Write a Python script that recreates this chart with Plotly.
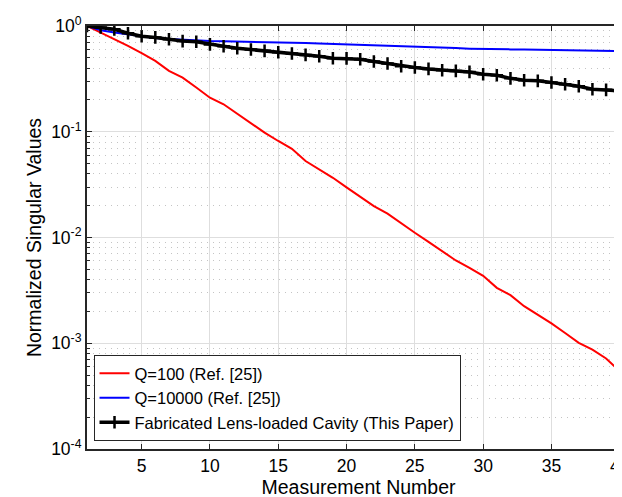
import plotly.graph_objects as go

# measurement index
n = list(range(1, 42))

# normalized singular values
q100 = [1.0, 0.868, 0.740, 0.649, 0.553, 0.468, 0.376, 0.325, 0.262, 0.210,
        0.182, 0.148, 0.1186, 0.098, 0.0818, 0.0689, 0.0529, 0.0441, 0.0367, 0.0298,
        0.0241, 0.0198, 0.0168, 0.01357, 0.01108, 0.0091, 0.00743, 0.00606, 0.00516, 0.00434,
        0.00334, 0.00285, 0.00224, 0.00187, 0.00154, 0.00125, 0.00101, 0.00087, 0.000718, 0.000543,
        0.00042]
q10000 = [1.0, 0.912, 0.868, 0.83, 0.80, 0.77, 0.753, 0.74, 0.73, 0.72,
          0.717, 0.714, 0.711, 0.708, 0.703, 0.697, 0.691, 0.685, 0.679, 0.672,
          0.665, 0.658, 0.651, 0.643, 0.636, 0.630, 0.624, 0.618, 0.611, 0.605,
          0.603, 0.601, 0.599, 0.597, 0.595, 0.593, 0.590, 0.588, 0.585, 0.583,
          0.576]
lens = [1.0, 0.97, 0.93, 0.855, 0.80, 0.78, 0.75, 0.72, 0.71, 0.67,
        0.644, 0.616, 0.599, 0.582, 0.565, 0.549, 0.533, 0.518, 0.496, 0.494,
        0.485, 0.461, 0.442, 0.416, 0.405, 0.393, 0.381, 0.376, 0.368, 0.350,
        0.342, 0.320, 0.307, 0.303, 0.292, 0.281, 0.269, 0.252, 0.249, 0.243,
        0.22]

x_ticks = [5, 10, 15, 20, 25, 30, 35, 40]
y_ticks = [1e-4, 1e-3, 1e-2, 1e-1, 1e0]
y_labels = ["10<sup>-4</sup>", "10<sup>-3</sup>", "10<sup>-2</sup>", "10<sup>-1</sup>", "10<sup>0</sup>"]

AXIS = "#262626"
FONT = "Arial, Liberation Sans, sans-serif"

fig = go.Figure()
fig.add_trace(go.Scatter(
    x=n, y=q100, mode="lines",
    line=dict(color="#ff0000", width=2),
    name="Q=100 (Ref. [25])",
))
fig.add_trace(go.Scatter(
    x=n, y=q10000, mode="lines",
    line=dict(color="#0000ff", width=2),
    name="Q=10000 (Ref. [25])",
))
fig.add_trace(go.Scatter(
    x=n, y=lens, mode="lines+markers",
    line=dict(color="black", width=3.5),
    marker=dict(symbol="cross-thin", size=9, line=dict(color="black", width=2.5)),
    name="Fabricated Lens-loaded Cavity (This Paper)",
))

minor_vals = [m * 10 ** e for e in range(-4, 0) for m in range(2, 10)]

fig.update_layout(
    width=622, height=497,
    paper_bgcolor="white", plot_bgcolor="white",
    font=dict(family=FONT, size=17.5, color="black"),
    margin=dict(l=79, r=0, t=18, b=56),
    legend=dict(
        x=0.012, y=0.222, xanchor="left", yanchor="top",
        bgcolor="white", bordercolor=AXIS, borderwidth=1,
        font=dict(size=16.5, color="black"),
        tracegroupgap=0,
    ),
)
fig.update_xaxes(
    range=[1, 40.75],
    tickvals=x_ticks,
    ticks="inside", ticklen=5, tickwidth=1, tickcolor=AXIS,
    showline=True, linecolor=AXIS, linewidth=2, mirror="ticks",
    showgrid=True, gridcolor="#dedede", gridwidth=1,
    zeroline=False,
    title=dict(text="Measurement Number", font=dict(size=19.5), standoff=1),
)
fig.update_yaxes(
    type="log", range=[-4, 0],
    tickvals=y_ticks, ticktext=y_labels,
    ticks="inside", ticklen=5, tickwidth=1, tickcolor=AXIS,
    showline=True, linecolor=AXIS, linewidth=2, mirror=False,
    showgrid=True, gridcolor="#dedede", gridwidth=1,
    zeroline=False,
    minor=dict(tickvals=minor_vals, ticks="inside", ticklen=3, tickcolor=AXIS,
               showgrid=True, gridcolor="#c4c4c4", griddash="1px,5px", gridwidth=1),
    title=dict(text="Normalized Singular Values", font=dict(size=19.5), standoff=4),
)

fig.write_html("out.html")
